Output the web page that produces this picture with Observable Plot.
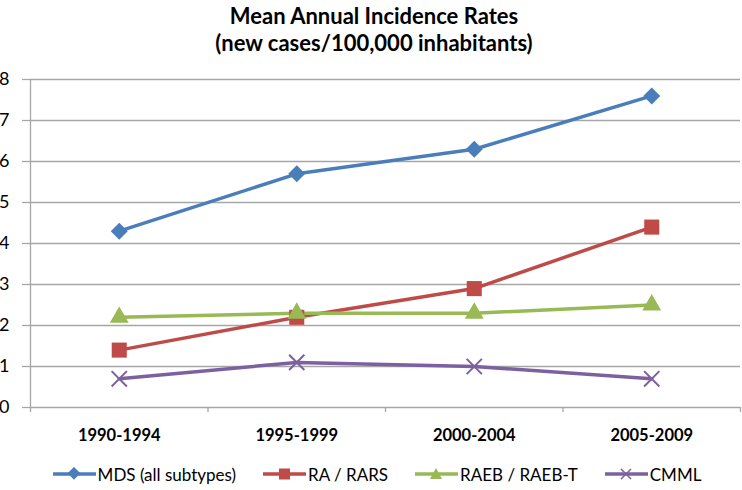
<!DOCTYPE html>
<html><head><meta charset="utf-8">
<script src="https://cdn.jsdelivr.net/npm/d3@7"></script>
<script src="https://cdn.jsdelivr.net/npm/@observablehq/plot@0.6"></script>
<style>
html,body{margin:0;padding:0;background:#fff;}
body{width:742px;height:490px;overflow:hidden;font-family:Lato,"Open Sans",sans-serif;color:#000;}
#title{height:58px;box-sizing:border-box;padding-top:2px;text-align:center;font-weight:bold;font-size:22px;line-height:27px;padding-left:6px;}
#legend{height:32px;display:flex;justify-content:center;align-items:center;gap:27px;font-size:17px;padding-left:12px;}
.item{display:flex;align-items:center;gap:2px;}
</style></head><body>
<div id="title">Mean Annual Incidence Rates<br>(new cases/100,000 inhabitants)</div>
<div id="chart"></div>
<div id="legend"></div>
<script>
const periods = ["1990-1994", "1995-1999", "2000-2004", "2005-2009"];
const mds = [4.3, 5.7, 6.3, 7.6];
const raRars = [1.4, 2.2, 2.9, 4.4];
const raeb = [2.2, 2.3, 2.3, 2.5];
const cmml = [0.7, 1.1, 1.0, 0.7];
const seriesNames = ["MDS (all subtypes)", "RA / RARS", "RAEB / RAEB-T", "CMML"];
const colors = ["#4a7ebb", "#be4b48", "#98b954", "#7d60a0"];
const yTicks = [0, 1, 2, 3, 4, 5, 6, 7, 8];

const seriesValues = [mds, raRars, raeb, cmml];
const data = [];
seriesValues.forEach((vals, s) => vals.forEach((v, i) => data.push({series: seriesNames[s], pos: i + 0.5, period: periods[i], value: v})));
const centers = periods.map((p, i) => i + 0.5);
const edges = d3.range(periods.length + 1);

const grid = "#a6a6a6";
const dotOpts = [
  {r: 6.8, rotate: 45, symbol: "square"},
  {r: 8.5, rotate: 0, symbol: "square"},
  {r: 7, rotate: 0, symbol: "triangle"},
  {r: 7, rotate: 0, symbol: "times"}
];

const chart = Plot.plot({
  width: 742,
  height: 400,
  marginLeft: 30,
  marginRight: 2,
  marginTop: 21,
  marginBottom: 51,
  style: {fontFamily: "Lato, 'Open Sans', sans-serif", color: "#000", background: "#fff"},
  x: {type: "linear", domain: [0, periods.length], axis: null},
  y: {domain: [0, 8], axis: null},
  color: {domain: seriesNames, range: colors},
  marks: [
    Plot.gridY(yTicks.slice(1), {stroke: grid, strokeOpacity: 1, strokeWidth: 1.3}),
    Plot.axisY(yTicks, {label: null, tickSize: 8, tickPadding: 13, fontSize: 18, stroke: grid, strokeOpacity: 1, strokeWidth: 1.3, fill: "#000", tickFormat: d => String(d)}),
    Plot.ruleX([0], {y1: 0, y2: 8, stroke: grid, strokeWidth: 1.3}),
    Plot.axisX(edges, {label: null, tickSize: 5, stroke: grid, strokeWidth: 1.3, tickFormat: () => ""}),
    Plot.ruleY([0], {stroke: grid, strokeWidth: 1.3}),
    Plot.axisX(centers, {label: null, tickSize: 0, tickPadding: 22, fontSize: 16.5, fontWeight: "bold", fill: "#000", tickFormat: d => periods[Math.floor(d)]}),
    Plot.line(data, {x: "pos", y: "value", stroke: "series", strokeWidth: 3.5}),
    ...seriesNames.map((name, s) => {
      const o = dotOpts[s];
      const sub = data.filter(d => d.series === name);
      return o.symbol === "times"
        ? Plot.dot(sub, {x: "pos", y: "value", symbol: () => "times", r: o.r, stroke: colors[s], strokeWidth: 2})
        : Plot.dot(sub, {x: "pos", y: "value", symbol: () => o.symbol, r: o.r, rotate: o.rotate, fill: colors[s], stroke: "none"});
    })
  ]
});
document.getElementById("chart").appendChild(chart);

const legendSymbols = {
  0: '<rect x="16" y="2" width="9" height="9" transform="rotate(45 21 7)" fill="C"/>',
  1: '<rect x="16" y="1.5" width="11" height="11" fill="C"/>',
  2: '<path d="M21,1 L27,12 L15,12 Z" fill="C"/>',
  3: '<path d="M16,2 L26,12 M26,2 L16,12" stroke="C" stroke-width="1.5"/>'
};
const legend = document.getElementById("legend");
seriesNames.forEach((name, s) => {
  const item = document.createElement("div");
  item.className = "item";
  item.innerHTML = `<svg width="43" height="14"><line x1="0" x2="43" y1="7" y2="7" stroke="${colors[s]}" stroke-width="3.5"/>${legendSymbols[s].replace(/C/g, colors[s])}</svg><span>${name}</span>`;
  legend.appendChild(item);
});
</script>
</body></html>
